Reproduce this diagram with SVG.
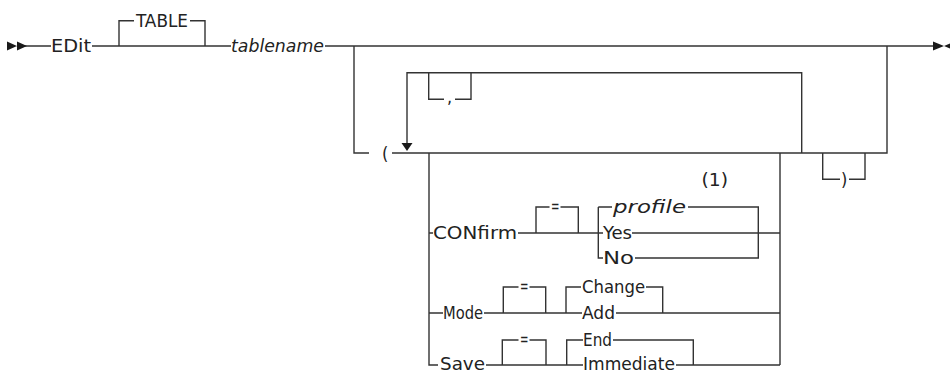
<svg xmlns="http://www.w3.org/2000/svg" width="950" height="371" viewBox="0 0 950 371">
<style>
.bg{fill:#ffffff}
.ln{fill:none;stroke:#333333;stroke-width:1.4}
.ah{fill:#1a1a1a;stroke:none}
.t{font-family:"DejaVu Sans Condensed","DejaVu Sans","Liberation Sans",sans-serif;font-stretch:condensed;font-size:18px;fill:#222222}
.i{font-style:italic}
</style>
<rect class="bg" x="0" y="0" width="950" height="371"/>
<g id="connectors">
<path class="ln" d="M25 46H51M92 46H231M325 46H933"/>
<path class="ln" d="M119 46V20.7H134M190 20.7H205V46"/>
<path class="ln" d="M354 46V153H369M392 153H887V46"/>
<path class="ln" d="M407 143V72.7H801.7V153"/>
<path class="ln" d="M428.7 72.7V99.3H444M455 99.3H471V72.7"/>
<path class="ln" d="M429 153V365H438M780 153V365"/>
<path class="ln" d="M429 233H433M518 233H603M632 233H780"/>
<path class="ln" d="M536 233V207H549.5M560.5 207H578.3V233"/>
<path class="ln" d="M598.3 207V258H603M598.3 207H612M688 207H758.3V258H635"/>
<path class="ln" d="M429 313H443M484 313H582M616 313H780"/>
<path class="ln" d="M503.3 313V287H518.5M529.5 287H545.7V313"/>
<path class="ln" d="M566 313V287H581M646 287H662.7V313"/>
<path class="ln" d="M486 365H583M676 365H780"/>
<path class="ln" d="M502.3 365V340H518.5M529.5 340H546V365"/>
<path class="ln" d="M566.7 365V340H583M613 340H693.3V365"/>
<path class="ln" d="M822.7 153V179.3H840M849 179.3H865V153"/>
<path class="ah" d="M401.5 143H412.5L407 151Z"/>
</g>
<g id="start"><path class="ah" d="M7 41.5L17 46L7 50.5ZM17 41.5L27 46L17 50.5Z"/></g>
<g id="end"><path class="ah" d="M933 41.5L944 46L933 50.5ZM955 41.5L944 46L955 50.5Z"/></g>
<g id="n-edit"><text class="t" x="51" y="52" textLength="40" lengthAdjust="spacingAndGlyphs">EDit</text></g>
<g id="n-table"><text class="t" x="136" y="26.5" textLength="52" lengthAdjust="spacingAndGlyphs">TABLE</text></g>
<g id="n-tablename"><text class="t i" x="231" y="52" textLength="93" lengthAdjust="spacingAndGlyphs">tablename</text></g>
<g id="n-comma"><text class="t" x="447" y="103">,</text></g>
<g id="n-lparen"><text class="t" x="382" y="160">(</text></g>
<g id="n-rparen"><text class="t" x="841" y="186">)</text></g>
<g id="n-confirm"><text class="t" x="433" y="239" textLength="84" lengthAdjust="spacingAndGlyphs">CONfirm</text></g>
<g id="n-eq1"><text class="t" x="551" y="211.5" textLength="8.5" lengthAdjust="spacingAndGlyphs">=</text></g>
<g id="n-profile"><text class="t i" x="613" y="213" textLength="73" lengthAdjust="spacingAndGlyphs">profile</text></g>
<g id="n-note"><text class="t" x="701.5" y="186" textLength="26.5" lengthAdjust="spacingAndGlyphs">(1)</text></g>
<g id="n-yes"><text class="t" x="603" y="239" textLength="29" lengthAdjust="spacingAndGlyphs">Yes</text></g>
<g id="n-no"><text class="t" x="603" y="264" textLength="31" lengthAdjust="spacingAndGlyphs">No</text></g>
<g id="n-mode"><text class="t" x="443" y="319" textLength="40" lengthAdjust="spacingAndGlyphs">Mode</text></g>
<g id="n-eq2"><text class="t" x="520" y="291.5" textLength="8.5" lengthAdjust="spacingAndGlyphs">=</text></g>
<g id="n-change"><text class="t" x="582" y="293" textLength="63" lengthAdjust="spacingAndGlyphs">Change</text></g>
<g id="n-add"><text class="t" x="582" y="319" textLength="33" lengthAdjust="spacingAndGlyphs">Add</text></g>
<g id="n-save"><text class="t" x="440" y="370" textLength="45" lengthAdjust="spacingAndGlyphs">Save</text></g>
<g id="n-eq3"><text class="t" x="520" y="344.5" textLength="8.5" lengthAdjust="spacingAndGlyphs">=</text></g>
<g id="n-end"><text class="t" x="583" y="346" textLength="29" lengthAdjust="spacingAndGlyphs">End</text></g>
<g id="n-immediate"><text class="t" x="583" y="370" textLength="92" lengthAdjust="spacingAndGlyphs">Immediate</text></g>
</svg>
